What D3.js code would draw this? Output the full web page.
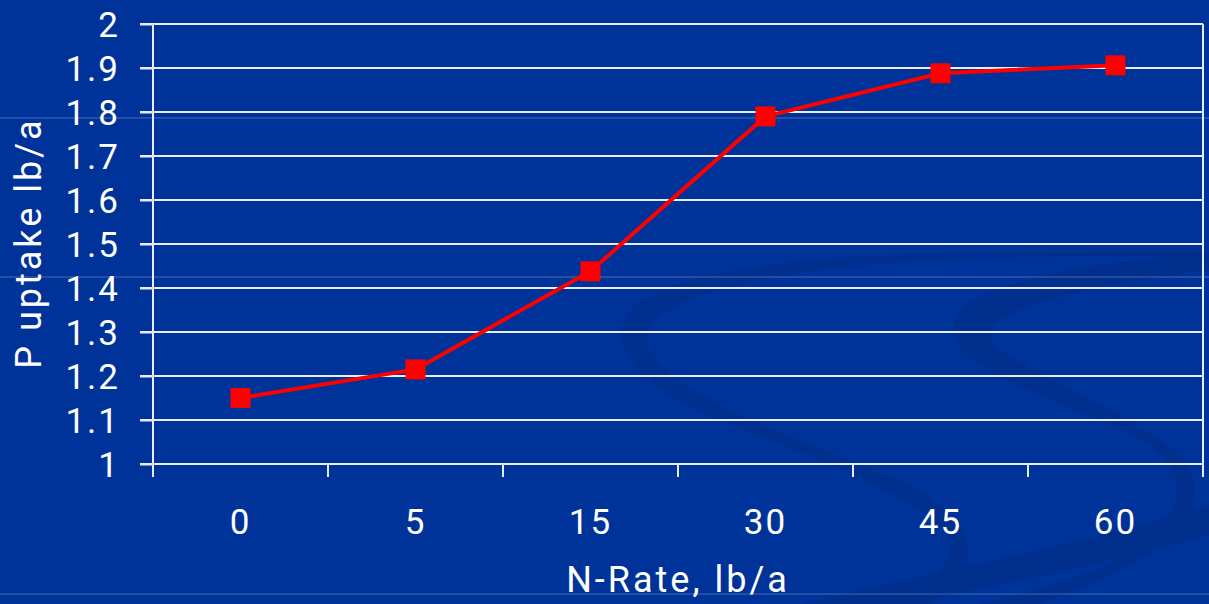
<!DOCTYPE html>
<html><head><meta charset="utf-8">
<script src="https://cdn.jsdelivr.net/npm/d3@7"></script>
<style>
html,body{margin:0;padding:0;background:#003399;overflow:hidden;}
text{font-family:Roboto,"Noto Sans",sans-serif;font-weight:400;fill:#fff;}
</style></head>
<body>
<svg id="c" width="1209" height="604"></svg>
<script>
const categories = ["0","5","15","30","45","60"];
const values = [1.15, 1.215, 1.438, 1.79, 1.888, 1.906];
const yTicks = [1,1.1,1.2,1.3,1.4,1.5,1.6,1.7,1.8,1.9,2];
const yTickLabels = ["1","1.1","1.2","1.3","1.4","1.5","1.6","1.7","1.8","1.9","2"];
const xTitle = "N-Rate, lb/a";
const yTitle = "P uptake lb/a";

const FONT = "Roboto, 'Noto Sans', sans-serif";
const svg = d3.select("#c");
svg.append("rect").attr("width",1209).attr("height",604).attr("fill","#003399");

// decorative swooshes
const deco = svg.append("g").attr("fill","#002f8c").attr("opacity",0.8);
deco.append("path").attr("d","M1209,250 C1000,250 760,250 660,290 C590,320 620,380 720,420 C820,460 930,500 950,540 C960,570 900,600 880,604 L930,604 C990,570 980,520 900,480 C800,440 680,400 650,350 C630,310 720,275 900,262 C1000,256 1120,255 1209,258 Z");
deco.append("path").attr("d","M1209,255 C1100,260 990,280 960,310 C930,350 1000,380 1100,420 C1180,450 1200,490 1150,540 C1120,570 1000,600 980,604 L1040,604 C1160,560 1209,520 1190,470 C1170,430 1060,390 1000,350 C960,320 1050,290 1209,270 Z");
deco.append("path").attr("d","M800,604 C950,570 1100,540 1209,505 L1209,535 C1100,565 980,590 900,604 Z");

// faint slide lines
[118,277,594].forEach(y=>{
  svg.append("line").attr("x1",0).attr("x2",1209).attr("y1",y).attr("y2",y)
    .attr("stroke","#ffffff").attr("stroke-opacity",0.28).attr("stroke-width",1);
});

const L=153, R=1203, T=24, B=464;
const x = d3.scaleBand().domain(categories).range([L,R]);
const y = d3.scaleLinear().domain([1,2]).range([B,T]);

// gridlines
svg.append("g").selectAll("line").data(yTicks).join("line")
  .attr("x1",140).attr("x2",R).attr("y1",d=>y(d)).attr("y2",d=>y(d))
  .attr("stroke","#e8ecf5").attr("stroke-width",2);
// right border
svg.append("line").attr("x1",R).attr("x2",R).attr("y1",T).attr("y2",B)
  .attr("stroke","#e8ecf5").attr("stroke-width",2);

// y axis
const ya = svg.append("g").attr("transform",`translate(${L},0)`)
  .call(d3.axisLeft(y).tickValues(yTicks).tickSize(13).tickPadding(22)
    .tickFormat((d,i)=>yTickLabels[i]));
ya.select(".domain").attr("stroke","#e8ecf5").attr("stroke-width",2).attr("d",`M0,${T}V${B+12}`);
ya.selectAll(".tick line").attr("stroke","#e8ecf5").attr("stroke-width",2);
ya.selectAll(".tick text").attr("fill","#fff").style("font-size","35px")
  .style("font-family",FONT).style("font-weight","400").style("letter-spacing","2px")
  .attr("dy","0.36em").attr("x",-33);

// x axis
const xb = [...categories.map(c=>x(c)), R];
const xa = svg.append("g").attr("transform",`translate(0,${B})`)
  .call(d3.axisBottom(x).tickSize(0).tickPadding(58));
xa.select(".domain").remove();
xa.selectAll(".tick text").attr("fill","#fff").style("font-size","35px")
  .style("font-family",FONT).style("font-weight","400").style("letter-spacing","2px")
  .attr("dy","0.35em");
svg.append("g").selectAll("line").data(xb).join("line")
  .attr("x1",d=>d).attr("x2",d=>d).attr("y1",B).attr("y2",B+13)
  .attr("stroke","#e8ecf5").attr("stroke-width",2);

// line
const line = d3.line().x((d,i)=>x(categories[i])+x.bandwidth()/2).y(d=>y(d));
svg.append("path").datum(values).attr("d",line).attr("fill","none")
  .attr("stroke","#ff0000").attr("stroke-width",4).attr("stroke-linejoin","round");
svg.append("g").selectAll("rect").data(values).join("rect")
  .attr("x",(d,i)=>x(categories[i])+x.bandwidth()/2-10).attr("y",d=>y(d)-10)
  .attr("width",20).attr("height",20).attr("fill","#ff0000");

// titles
svg.append("text").attr("x",(L+R)/2).attr("y",592).attr("text-anchor","middle")
  .style("font-size","36px").style("letter-spacing","3px").text(xTitle);
svg.append("text").attr("transform","translate(41,243) rotate(-90)").attr("text-anchor","middle")
  .style("font-size","36px").style("letter-spacing","3px").text(yTitle);
</script>
</body></html>
